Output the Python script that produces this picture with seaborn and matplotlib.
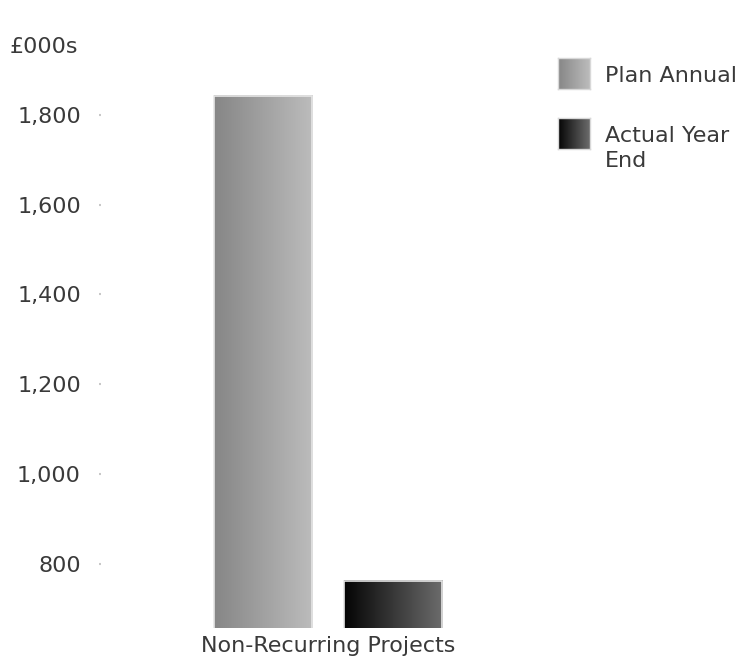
import numpy as np
import pandas as pd
import matplotlib
matplotlib.use("Agg")
import matplotlib.pyplot as plt
import seaborn as sns
from matplotlib.colors import LinearSegmentedColormap

# ---- data ----
categories = ["Non-Recurring Projects"]
series_names = ["Plan Annual", "Actual Year\nEnd"]
plan_values = [1843]
actual_values = [762]
y_ticks = [800, 1000, 1200, 1400, 1600, 1800]
unit_label = "£000s"

# gradient colours (left -> right)
grad_colors = [("#868686", "#bcbcbc"), ("#040404", "#6c6c6c")]

sns.set_style("white")
plt.rcParams["font.family"] = ["DejaVu Sans"]
TXT = "#3a3a3a"
FS = 16

df = pd.DataFrame({
    "category": categories * 2,
    "series": [series_names[0]] * len(categories) + [series_names[1]] * len(categories),
    "value": plan_values + actual_values,
})

W, H = 742, 660
fig = plt.figure(figsize=(W / 100, H / 100), dpi=100)
ax = fig.add_axes([101 / W, (H - 628) / H, (555 - 101) / W, (628 - 70) / H])

sns.barplot(data=df, x="category", y="value", hue="series",
            hue_order=series_names, palette=[c[1] for c in grad_colors],
            width=0.573, gap=0.246, legend=False, ax=ax, saturation=1)

ax.set_xlim(-0.5, 0.5)
ax.set_ylim(657, 1900)

# gradient fill of bars
grad = np.linspace(0, 1, 256).reshape(1, -1)
patches = [p for p in ax.patches]
patches.sort(key=lambda p: p.get_x())
for p, (c0, c1) in zip(patches, grad_colors):
    x0, w = p.get_x(), p.get_width()
    y0, h = p.get_y(), p.get_height()
    cmap = LinearSegmentedColormap.from_list("g", [c0, c1])
    ax.imshow(grad, extent=[x0, x0 + w, y0, y0 + h], aspect="auto",
              cmap=cmap, zorder=p.get_zorder() + 0.1, interpolation="bilinear")
    p.set_facecolor("none")
    p.set_edgecolor("#e6e6e6")
    p.set_linewidth(1.2)
    p.set_zorder(p.get_zorder() + 0.2)
ax.set_xlim(-0.5, 0.5)
ax.set_ylim(657, 1900)

for s in ax.spines.values():
    s.set_visible(False)

ax.set_yticks(y_ticks)
ax.set_yticklabels([f"{v:,}" for v in y_ticks])
ax.tick_params(axis="y", length=1.5, width=1.5, color="#c8c8c8", pad=13,
               labelsize=FS, labelcolor=TXT, left=True)
ax.tick_params(axis="x", length=0, pad=6, labelsize=FS, labelcolor=TXT)
ax.set_xlabel("")
ax.set_ylabel("")

fig.text(10 / W, 1 - 47 / H, unit_label, ha="left", va="center",
         fontsize=FS, color=TXT)

# manual legend with gradient swatches
legend_tops = [58, 118]
for name, (c0, c1), top in zip(series_names, grad_colors, legend_tops):
    lax = fig.add_axes([558 / W, 1 - (top + 31) / H, 32 / W, 31 / H])
    cmap = LinearSegmentedColormap.from_list("g", [c0, c1])
    lax.imshow(grad, aspect="auto", cmap=cmap, extent=[0, 1, 0, 1],
               interpolation="bilinear")
    lax.set_xticks([])
    lax.set_yticks([])
    for s in lax.spines.values():
        s.set_color("#d8d8d8")
        s.set_linewidth(1)
    for i, line in enumerate(name.split("\n")):
        fig.text(605 / W, 1 - (top + 24 + i * 25) / H, line, ha="left",
                 va="baseline", fontsize=FS, color=TXT)

fig.savefig("out.png", dpi=100, facecolor="white")
